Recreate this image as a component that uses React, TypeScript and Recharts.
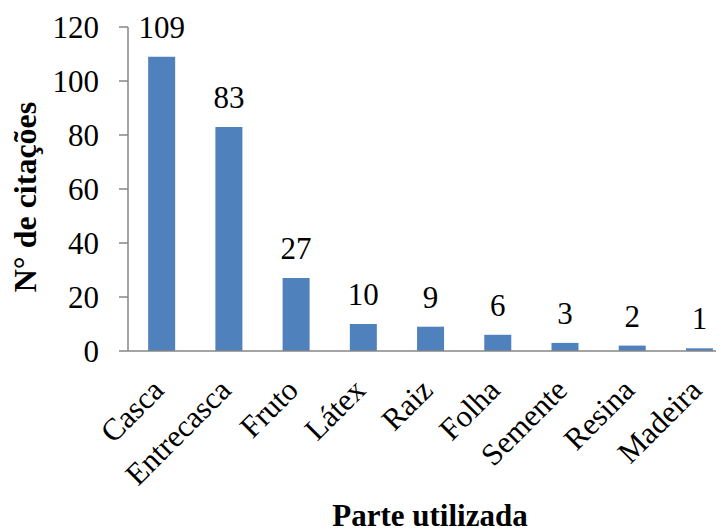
import React from 'react';
import { BarChart, Bar, XAxis, YAxis, LabelList, Label } from 'recharts';

const categories = ['Casca', 'Entrecasca', 'Fruto', 'Látex', 'Raiz', 'Folha', 'Semente', 'Resina', 'Madeira'];
const citations = [109, 83, 27, 10, 9, 6, 3, 2, 1];
const yTicks = [0, 20, 40, 60, 80, 100, 120];

const FONT = '"Liberation Serif", "Times New Roman", serif';
const AXIS_GREY = '#868686';

const data = categories.map((name, i) => ({ name, value: citations[i] }));

// rotated category labels, anchored at their end like Excel does
const CategoryTick = (props: any) => {
  const { x, y, payload } = props;
  return (
    <g transform={`translate(${x + 4},${y + 41})`}>
      <text
        x={0}
        y={0}
        transform="rotate(-45)"
        textAnchor="end"
        fontFamily={FONT}
        fontSize={31}
        fill="#000"
      >
        {payload.value}
      </text>
    </g>
  );
};

const App: React.FC = () => {
  return (
    <div style={{ marginLeft: -8, marginTop: -8, width: 740, height: 532 }}>
      <BarChart
        width={740}
        height={532}
        data={data}
        margin={{ top: 27, right: 7, bottom: 0, left: 0 }}
        barCategoryGap="30%"
      >
        <XAxis
          dataKey="name"
          height={181}
          axisLine={{ stroke: AXIS_GREY, strokeWidth: 1.5 }}
          tickLine={false}
          tickSize={0}
          tickMargin={0}
          tick={<CategoryTick />}
          interval={0}
        >
          <Label
            content={() => (
              <text x={430} y={526} textAnchor="middle" fontFamily={FONT} fontSize={31} fontWeight="bold" fill="#000">
                Parte utilizada
              </text>
            )}
          />
        </XAxis>
        <YAxis
          width={128}
          domain={[0, 120]}
          ticks={yTicks}
          interval={0}
          axisLine={{ stroke: AXIS_GREY, strokeWidth: 1.5 }}
          tickLine={{ stroke: AXIS_GREY, strokeWidth: 1.5 }}
          tickSize={9}
          tickMargin={20}
          tick={{ fontFamily: FONT, fontSize: 31, fill: '#000' }}
        >
          <Label
            content={() => (
              <text
                x={36}
                y={197}
                transform="rotate(-90 36 197)"
                textAnchor="middle"
                fontFamily={FONT}
                fontSize={32}
                fontWeight="bold"
                fill="#000"
              >
                N° de citações
              </text>
            )}
          />
        </YAxis>
        <Bar dataKey="value" fill="#4F81BD" isAnimationActive={false}>
          <LabelList
            dataKey="value"
            position="top"
            offset={19}
            fontFamily={FONT}
            fontSize={31}
            fill="#000"
          />
        </Bar>
      </BarChart>
    </div>
  );
};

export default App;
